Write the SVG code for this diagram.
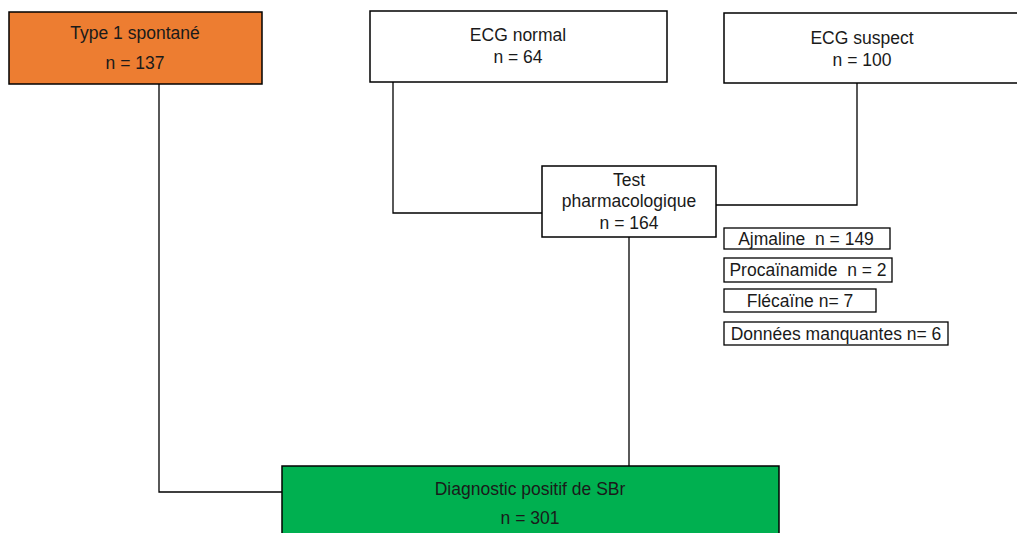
<svg xmlns="http://www.w3.org/2000/svg" width="1017" height="533" viewBox="0 0 1017 533">
<style>
.box{stroke:#000;stroke-width:1.5;fill:#fff}
.sm{stroke:#000;stroke-width:1.3;fill:#fff}
text{font-family:"Liberation Sans",Arial,sans-serif;font-size:17.5px;fill:#1a1a1a;text-anchor:middle;white-space:pre}
.c{fill:none;stroke:#000;stroke-width:1.3}
</style>
<rect width="1017" height="533" fill="#fff"/>
<g id="connectors">
<polyline class="c" points="159,84 159,492 283,492"/>
<polyline class="c" points="393,82 393,213 542,213"/>
<polyline class="c" points="857,83 857,205 716,205"/>
<line class="c" x1="629" y1="237" x2="629" y2="466"/>
</g>
<g id="type1">
<rect x="9" y="12" width="253" height="72" fill="#ED7D31" stroke="#000" stroke-width="1.5"/>
<text x="135" y="39">Type 1 spontané</text>
<text x="135" y="69">n = 137</text>
</g>
<g id="ecgnormal">
<rect class="box" x="370" y="11" width="297" height="71"/>
<text x="518" y="41">ECG normal</text>
<text x="518" y="63">n = 64</text>
</g>
<g id="ecgsuspect">
<rect class="box" x="724" y="13" width="300" height="70"/>
<text x="862" y="44">ECG suspect</text>
<text x="862" y="66">n = 100</text>
</g>
<g id="test">
<rect class="box" x="542" y="166" width="174" height="71"/>
<text x="629" y="186">Test</text>
<text x="629" y="207">pharmacologique</text>
<text x="629" y="229">n = 164</text>
</g>
<g id="ajmaline">
<rect class="sm" x="724" y="228" width="166" height="21"/>
<text x="806" y="245">Ajmaline  n = 149</text>
</g>
<g id="procainamide">
<rect class="sm" x="724" y="258" width="168" height="24"/>
<text x="808" y="276">Procaïnamide  n = 2</text>
</g>
<g id="flecaine">
<rect class="sm" x="724" y="289" width="152" height="23"/>
<text x="800" y="307">Flécaïne n= 7</text>
</g>
<g id="donnees">
<rect class="sm" x="724" y="322" width="224" height="23"/>
<text x="836" y="340">Données manquantes n= 6</text>
</g>
<g id="diagnostic">
<rect x="282" y="466" width="497" height="80" fill="#00B050" stroke="#000" stroke-width="1.5"/>
<text x="530" y="495">Diagnostic positif de SBr</text>
<text x="530" y="524">n = 301</text>
</g>
</svg>
